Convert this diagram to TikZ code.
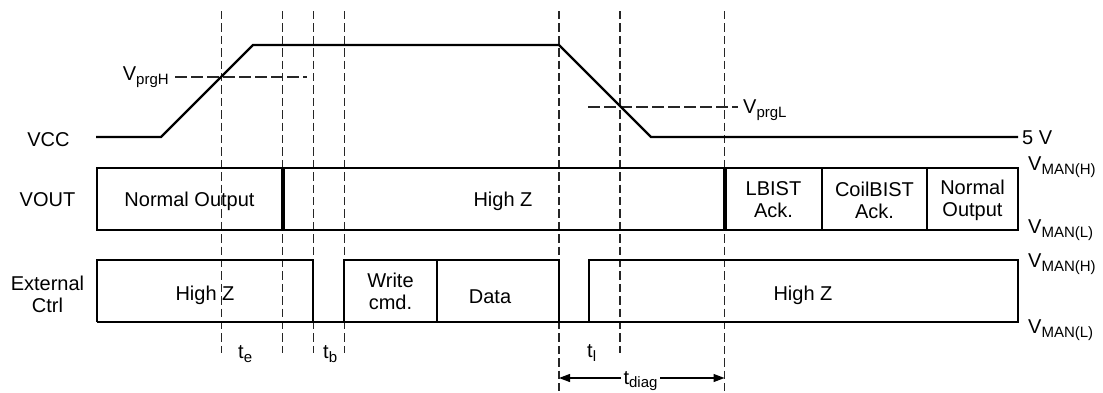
\documentclass[tikz,border=0pt]{standalone}
\usepackage{fontspec}
\setmainfont{Liberation Sans}
\usetikzlibrary{arrows.meta}
\newcommand\lsub[1]{\raisebox{-4pt}{\fontsize{15}{15}\selectfont #1}}
\begin{document}
\begin{tikzpicture}[x=1pt,y=-1pt,
  sig/.style={line width=2.4pt, line join=miter},
  edgeline/.style={line width=3.2pt},
  vguide/.style={line width=1.4pt, black!85, dash pattern=on 8.3pt off 4.1pt},
  hguide/.style={line width=1.4pt, black!85, dash pattern=on 11.7pt off 4.3pt},
  lbl/.style={inner sep=0pt, font=\fontsize{20}{22}\selectfont},
  mlbl/.style={lbl, align=center},
  dimline/.style={line width=1.2pt, {Triangle[length=11pt,width=8pt]}-{Triangle[length=11pt,width=8pt]}}
]
\useasboundingbox (0,0) rectangle (1103,392);

% vertical guides
\foreach \i/\x/\yb in {1/221.5/353,2/282.5/353,3/313.5/353,4/344.5/353,5/559/392,6/620/353,7/724.5/392}{
  \coordinate (gt\i) at (\x,11);
  \coordinate (gb\i) at (\x,\yb);
  \draw[vguide] (gt\i) -- (gb\i);
}
% threshold guides
\coordinate (hA) at (175,77);
\coordinate (hB) at (307,77);
\draw[hguide] (hA) -- (hB);
\coordinate (lA) at (588,107);
\coordinate (lB) at (738,107);
\draw[hguide] (lA) -- (lB);

% VCC
\coordinate (v0) at (96,137);
\coordinate (v1) at (161,137);
\coordinate (v2) at (253,45);
\coordinate (v3) at (559,45);
\coordinate (v4) at (651,137);
\coordinate (v5) at (1018,137);
\draw[sig] (v0) -- (v1) -- (v2) -- (v3) -- (v4) -- (v5);

% VOUT row
\coordinate (oNW) at (97,168);
\coordinate (oSE) at (1018,230);
\draw[sig] (oNW) rectangle (oSE);
\foreach \n/\x/\s in {o1/283/edgeline,o2/725/edgeline,o3/822/sig,o4/927/sig}{
  \coordinate (\n t) at (\x,168);
  \coordinate (\n b) at (\x,230);
  \draw[\s] (\n t) -- (\n b);
}

% External Ctrl row
\coordinate (e0b) at (97,322);
\coordinate (e0t) at (97,260);
\coordinate (e1t) at (313,260);
\coordinate (e1b) at (313,322);
\coordinate (e2b) at (344,322);
\coordinate (e2t) at (344,260);
\coordinate (e3t) at (437,260);
\coordinate (e3b) at (437,322);
\coordinate (e4t) at (559,260);
\coordinate (e4b) at (559,322);
\coordinate (e5b) at (589,322);
\coordinate (e5t) at (589,260);
\coordinate (e6t) at (1018,260);
\coordinate (e6b) at (1018,322);
\draw[sig] (e0b) -- (e0t) -- (e1t) -- (e1b);
\draw[sig] (e2b) -- (e2t) -- (e4t) -- (e4b);
\draw[sig] (e5b) -- (e5t) -- (e6t) -- (e6b) -- (e0b);
\draw[sig] (e3t) -- (e3b);

% t_diag dimension
\coordinate (da) at (559,378);
\coordinate (db) at (724.5,378);
\draw[dimline] (da) -- (db);

% labels
\node[lbl, anchor=base] (lVCC) at (48.5,146) {VCC};
\node[lbl, anchor=base] (lVOUT) at (47.5,206) {VOUT};
\node[mlbl] (lExt) at (47.5,294) {External\\Ctrl};
\node[lbl, anchor=base west] (lHigh) at (122.7,80) {V\lsub{prgH}};
\node[lbl, anchor=base west] (lLow) at (743,113) {V\lsub{prgL}};
\node[lbl, anchor=base west] (l5V) at (1022,144) {5 V};
\node[lbl, anchor=base west] (mh1) at (1028,170) {V\lsub{MAN(H)}};
\node[lbl, anchor=base west] (ml1) at (1028,233) {V\lsub{MAN(L)}};
\node[lbl, anchor=base west] (mh2) at (1028,267) {V\lsub{MAN(H)}};
\node[lbl, anchor=base west] (ml2) at (1028,333) {V\lsub{MAN(L)}};

\node[lbl, anchor=base] (nOut1) at (189.5,206) {Normal Output};
\node[lbl, anchor=base] (hz1) at (503,206) {High Z};
\node[mlbl] (lb) at (773.5,200) {LBIST\\Ack.};
\node[mlbl] (cb) at (874.5,200) {CoilBIST\\Ack.};
\node[mlbl] (nOut2) at (972.5,200) {Normal\\Output};

\node[lbl, anchor=base] (hz2) at (205,300) {High Z};
\node[mlbl] (wc) at (390.5,291) {Write\\cmd.};
\node[lbl, anchor=base] (dt) at (490,303) {Data};
\node[lbl, anchor=base] (hz3) at (803,300) {High Z};

\node[lbl, anchor=base west] (te) at (238,358) {t\lsub{e}};
\node[lbl, anchor=base west] (tb) at (323,358) {t\lsub{b}};
\node[lbl, anchor=base west] (tl) at (587,357) {t\lsub{l}};
\node[lbl, anchor=base, fill=white, inner xsep=3pt, inner ysep=0pt] (tdg) at (640.5,384) {t\raisebox{-3pt}{\fontsize{15}{15}\selectfont diag}};
\end{tikzpicture}
\end{document}
